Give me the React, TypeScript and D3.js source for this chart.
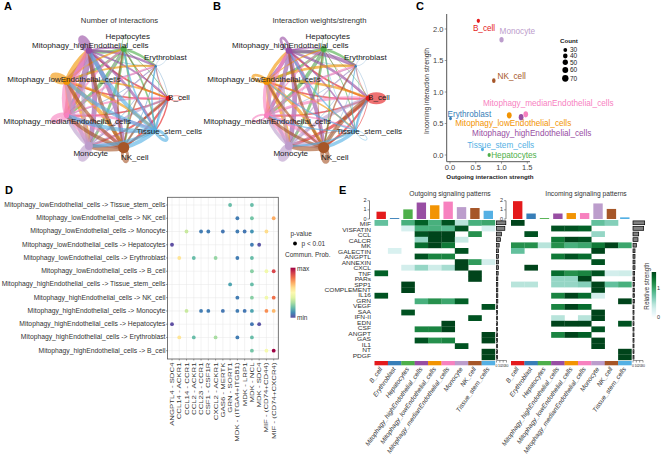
import React from 'react';
import * as d3 from 'd3';

const FONT = '"Liberation Sans", Arial, sans-serif';

// cell groups, same order everywhere
const cells = ['B_cell', 'Erythroblast', 'Hepatocytes', 'Mitophagy_highEndothelial_cells', 'Mitophagy_lowEndothelial_cells', 'Mitophagy_medianEndothelial_cells', 'Monocyte', 'NK_cell', 'Tissue_stem_cells'];
const cellColors = ['#E41A1C', '#377EB8', '#4DAF4A', '#984EA3', '#F29403', '#F781BF', '#BC9DCC', '#A65628', '#54B0E4'];

// network panels: row = source, column = target
const interactionCounts = [
  [5, 6, 8, 18, 16, 17, 20, 25, 14],
  [3, 1, 2, 5, 5, 5, 5, 6, 4],
  [8, 26, 6, 35, 30, 42, 30, 22, 16],
  [18, 25, 22, 62, 62, 70, 55, 50, 30],
  [16, 22, 18, 58, 60, 65, 50, 45, 26],
  [18, 22, 20, 65, 62, 52, 55, 50, 28],
  [25, 12, 14, 40, 38, 42, 68, 65, 18],
  [22, 15, 16, 38, 35, 40, 60, 30, 20],
  [24, 16, 16, 45, 40, 45, 35, 45, 32],
];
const interactionWeights = [
  [70, 4, 2, 16, 16, 16, 30, 20, 6],
  [2, 1, 1, 3, 3, 3, 3, 3, 2],
  [5, 24, 3, 30, 26, 38, 28, 14, 8],
  [26, 36, 12, 24, 38, 42, 48, 40, 16],
  [24, 26, 10, 32, 26, 40, 42, 34, 14],
  [28, 24, 12, 36, 34, 16, 48, 42, 16],
  [38, 10, 6, 30, 28, 34, 62, 50, 10],
  [44, 14, 6, 26, 24, 30, 50, 40, 12],
  [22, 6, 4, 12, 12, 14, 18, 34, 4],
];
const nodeSizes = [2.6, 1.2, 3, 3.2, 3.6, 2.6, 4, 5.6, 1.6];

const networkTitles = ['Number of interactions', 'Interaction weights/strength'];
const ringStretch = [1, 1, 1, 1.1, 1, 1, 1.1, 1, 1];
const networkLabelDx = [10.7, 9.6, 4, 1.4, -2.6, 0.7, 1.8, 11, 13.6];
const networkLabelDy = [-1, -8.9, -12.3, -5.7, -2.2, 6.3, 7, 9.8, 1.3];

// scatter panel
const outgoingStrength = [0.55, 0.01, 0.76, 1.38, 1.15, 1.47, 1.0, 0.85, 0.63];
const incomingStrength = [2.13, 0.58, 0.0, 0.6, 0.63, 0.645, 1.83, 1.18, 0.09];
const scatterCounts = [34, 26, 32, 62, 62, 60, 50, 38, 28];
const scatterLabelDx = [5.7, 18.8, 24.8, 10.6, 4, 22.5, 15.8, 17.9, 18.2];
const scatterLabelDy = [7.2, -4.5, 0.7, 15.8, 8, -11.1, -8, -4.7, -4];
const countLegend = [30, 40, 50, 60, 70];
const scatterXTicks = [0, 0.5, 1, 1.5];
const scatterYTicks = [0, 0.5, 1, 1.5, 2];

// dot panel
const pairs = [
  'Mitophagy_lowEndothelial_cells -> Tissue_stem_cells',
  'Mitophagy_lowEndothelial_cells -> NK_cell',
  'Mitophagy_lowEndothelial_cells -> Monocyte',
  'Mitophagy_lowEndothelial_cells -> Hepatocytes',
  'Mitophagy_lowEndothelial_cells -> Erythroblast',
  'Mitophagy_lowEndothelial_cells -> B_cell',
  'Mitophagy_highEndothelial_cells -> Tissue_stem_cells',
  'Mitophagy_highEndothelial_cells -> NK_cell',
  'Mitophagy_highEndothelial_cells -> Monocyte',
  'Mitophagy_highEndothelial_cells -> Hepatocytes',
  'Mitophagy_highEndothelial_cells -> Erythroblast',
  'Mitophagy_highEndothelial_cells -> B_cell',
];
const ligands = ['ANGPTL4 - SDC4', 'CCL14 - ACKR1', 'CCL14 - CCR1', 'CCL2 - ACKR1', 'CCL23 - CCR1', 'CSF1 - CSF1R', 'CXCL2 - ACKR1', 'GAS6 - MERTK', 'GRN - SORT1', 'MDK - (ITGA4+ITGB1)', 'MDK - LRP1', 'MDK - NCL', 'MDK - SDC4', 'MIF - (CD74+CD44)', 'MIF - (CD74+CXCR4)'];
// [pair index, ligand index, scaled probability]
const dots: [number, number, number][] = [
  [0, 8, 0.2], [0, 11, 0.2],
  [1, 9, 0.08], [1, 11, 0.22], [1, 14, 0.7],
  [2, 2, 0.35], [2, 4, 0.08], [2, 5, 0.08], [2, 7, 0.07], [2, 9, 0.08], [2, 10, 0.07], [2, 11, 0.12], [2, 13, 0.6],
  [3, 0, 0], [3, 11, 0.08], [3, 12, 0.01],
  [4, 1, 0.58], [4, 3, 0.2], [4, 6, 0.27], [4, 9, 0.08], [4, 11, 0.2],
  [5, 11, 0.25], [5, 13, 0.45], [5, 14, 0.88],
  [6, 8, 0.15], [6, 11, 0.2],
  [7, 9, 0.08], [7, 11, 0.25], [7, 13, 0.45], [7, 14, 0.8],
  [8, 2, 0.35], [8, 4, 0.08], [8, 5, 0.08], [8, 7, 0.07], [8, 9, 0.08], [8, 10, 0.07], [8, 11, 0.15], [8, 13, 0.75], [8, 14, 0.68],
  [9, 0, 0], [9, 11, 0.07], [9, 12, 0.01],
  [10, 1, 0.58], [10, 3, 0.2], [10, 6, 0.3], [10, 9, 0.08], [10, 11, 0.2],
  [11, 11, 0.22], [11, 13, 0.47], [11, 14, 1],
];

// heatmap panels
const pathways = ['MIF', 'VISFATIN', 'CCL', 'CALCR', 'MK', 'GALECTIN', 'ANGPTL', 'ANNEXIN', 'CXCL', 'TNF', 'PARs', 'SPP1', 'COMPLEMENT', 'IL16', 'GRN', 'VEGF', 'SAA', 'IFN-II', 'EDN', 'CSF', 'ANGPT', 'GAS', 'IL1', 'NT', 'PDGF'];
const outgoingHeat = [
  [0.45, 0, 0.55, 0.9, 0.55, 0.95, 0.2, 0.55, 0.6],
  [0, 0, 0.08, 0.55, 0.55, 0.5, 0.95, 0, 0.08],
  [0, 0, 0, 0.95, 1, 1, 0, 0.7, 0],
  [0, 0, 0, 0.3, 1, 1, 0.15, 0, 0],
  [0, 0, 0, 0.85, 1, 0.8, 0, 0, 0],
  [0, 0.07, 0, 0, 0, 0, 0.95, 0, 0],
  [0, 0, 0, 0.95, 0.75, 0.75, 0, 0, 0],
  [0, 0, 0, 0, 0, 0, 1, 0.65, 0.1],
  [0, 0, 0.1, 0.3, 0.12, 0.25, 1, 0, 0],
  [0.9, 0, 0, 0, 0, 0, 0, 1, 0],
  [0, 0, 0, 0, 0, 0, 0, 1, 0],
  [0, 0, 1, 0, 0, 0, 0, 0, 0],
  [0, 0, 1, 0, 0, 0, 0, 0, 0],
  [0.95, 0, 0, 0, 0, 0, 0, 0, 0],
  [0, 0, 0, 0.55, 0.7, 0.6, 0.9, 0, 0],
  [0, 0, 0, 0, 0, 0, 0, 0, 0.95],
  [0, 0, 0.95, 0, 0, 0, 0, 0, 0],
  [0, 0, 0, 0, 0, 0, 0, 0.95, 0],
  [0, 0, 0, 0, 0, 1, 0, 0, 0],
  [0, 0, 0, 0.75, 0.75, 1, 0, 0, 0],
  [0, 0, 0, 0, 0, 0, 0, 0, 1],
  [0, 0, 0, 0.95, 0.7, 0.75, 0, 0, 1],
  [0, 0, 0, 0, 0, 0, 0.95, 0, 0],
  [0, 0, 0, 0, 0, 0, 0, 0, 1],
  [0, 0, 0, 0, 0, 0, 0, 0, 1],
];
const incomingHeat = [
  [1, 0, 0, 0, 0, 0, 0.45, 0.35, 0],
  [0, 0, 0, 0.95, 0.95, 0.9, 0, 0, 0],
  [0, 0.95, 0, 0, 0, 0, 0.3, 0, 0],
  [0, 0, 0, 0.8, 1, 0.95, 0, 0, 0],
  [0.7, 0.7, 0.2, 0.7, 0.55, 0.6, 0.8, 1, 0.6],
  [0.45, 0, 0, 0, 0, 0, 1, 0, 0],
  [0, 0, 0, 0.8, 0.95, 0.85, 0, 0, 0],
  [0, 0, 0, 0, 0, 0, 0.95, 0, 0],
  [0, 1, 0, 0, 0, 0, 0, 0, 0],
  [0, 0, 0, 0.85, 0.7, 0.75, 0.95, 0.1, 0.12],
  [0, 0, 0, 0.3, 0.3, 1, 0, 0, 0],
  [0.2, 0.2, 0, 0.3, 0.3, 0.35, 1, 0.45, 0.55],
  [0, 0, 0, 0, 0, 0, 1, 0, 0],
  [0, 0, 0, 0.75, 1, 0.85, 0.1, 0, 0],
  [0, 0, 0, 0, 0, 0, 0, 0, 1],
  [0, 0, 0, 0.75, 1, 0.85, 0, 0, 0],
  [0, 0, 0, 0, 0, 0, 1, 0, 0],
  [0, 0, 0, 0.2, 0, 0.2, 1, 0, 0],
  [0, 0, 0, 1, 1, 1, 0, 0, 0.95],
  [0, 0, 0, 0, 0, 0, 0.95, 0, 0],
  [0, 0, 0, 0.75, 1, 0.9, 0, 0, 0],
  [0, 0, 0, 0, 0, 0, 1, 0, 0],
  [0, 0, 0, 0, 0, 0, 1, 0, 0],
  [0, 0, 0, 0, 0, 0, 0, 0, 1],
  [0, 0, 0, 0, 0, 0, 0, 0, 1],
];
const outgoingTotals = [0.8, 0.1, 1.05, 1.8, 1.5, 1.9, 1.3, 1.2, 0.9];
const incomingTotals = [1.95, 0.6, 0.1, 0.6, 0.65, 0.65, 1.7, 1.1, 0.18];
const outgoingRowTotals = [28, 25, 15, 12, 8, 6, 6, 6, 6, 5, 4, 4, 4, 4, 4, 3, 3, 3, 3, 3, 3, 3, 3, 3, 3];
const incomingRowTotals = [35, 32, 17, 15, 10, 6, 6, 6, 6, 5, 5, 4, 4, 4, 4, 3, 3, 3, 3, 3, 3, 3, 3, 3, 3];
const totalTicks = [0, 10, 20, 30];

const Network: React.FC<{ dx: number; title: string; values: number[][]; maxWidth: number }> = ({ dx, title, values, maxWidth }) => {
  const angle = d3.scalePoint<number>().domain(d3.range(10)).range([0, 2 * Math.PI]);
  const nodes = cells.map((_, i) => {
    const a = angle(i) as number;
    const sx = Math.cos(a) < 0 ? 0.94 : 1;
    return { x: 114.3 + dx + 54 * sx * Math.cos(a), y: 98.3 - 50 * ringStretch[i] * Math.sin(a), a };
  });
  const width = d3.scaleLinear().domain([0, 70]).range([0.25, maxWidth]);
  const edges: React.ReactElement[] = [];
  values.forEach((row, s) => row.forEach((v, t) => {
    if (s === t) return;
    const a = nodes[s];
    const b = nodes[t];
    const path = d3.path();
    path.moveTo(a.x, a.y);
    path.quadraticCurveTo((a.x + b.x) / 2 + (b.y - a.y) * 0.12, (a.y + b.y) / 2 - (b.x - a.x) * 0.12, b.x, b.y);
    edges.push(<path key={`${s}-${t}`} d={path.toString()} fill="none" stroke={cellColors[s]} strokeWidth={width(v)} strokeOpacity={0.62} />);
  }));
  return (
    <g fontFamily={FONT}>
      <text x={119.5 + dx} y={22.5} textAnchor="middle" fontSize={7.7} fill="#333">{title}</text>
      {nodes.map((n, i) => {
        const deg = (-n.a * 180) / Math.PI;
        const v = values[i][i];
        return (
          <ellipse key={i} cx={0} cy={0} rx={6.5} ry={2.6} transform={`translate(${n.x},${n.y}) rotate(${deg}) translate(8,0)`}
            fill="none" stroke={cellColors[i]} strokeWidth={width(v)} strokeOpacity={0.62} />
        );
      })}
      {edges}
      {nodes.map((n, i) => <circle key={i} cx={n.x} cy={n.y} r={nodeSizes[i]} fill={cellColors[i]} />)}
      {nodes.map((n, i) => (
        <text key={i} x={n.x + networkLabelDx[i]} y={n.y + networkLabelDy[i] + 2.6} fontSize={8} textAnchor="middle" fill="#222">
          {cells[i]}
        </text>
      ))}
    </g>
  );
};

const Scatter: React.FC = () => {
  const x = d3.scaleLinear().domain([0, 1.5]).range([450, 527.3]);
  const y = d3.scaleLinear().domain([0, 2]).range([155, 29]);
  const r = d3.scaleSqrt().domain([30, 70]).range([1.9, 3.2]);
  return (
    <g fontFamily={FONT}>
      <path d="M446.7,14V161.7H530" fill="none" stroke="#555" strokeWidth={1} />
      {scatterXTicks.map((t) => (
        <g key={t}>
          <line x1={x(t)} x2={x(t)} y1={161.7} y2={163.7} stroke="#555" strokeWidth={0.6} />
          <text x={x(t)} y={170} fontSize={7.5} textAnchor="middle" fill="#444">{d3.format('.1f')(t)}</text>
        </g>
      ))}
      {scatterYTicks.map((t) => (
        <g key={t}>
          <line x1={444.7} x2={446.7} y1={y(t)} y2={y(t)} stroke="#555" strokeWidth={0.6} />
          <text x={443.5} y={y(t) + 2.7} fontSize={7.5} textAnchor="end" fill="#444">{d3.format('.1f')(t)}</text>
        </g>
      ))}
      <text x={490} y={178.5} fontSize={6.2} fontWeight="bold" textAnchor="middle" fill="#222">Outgoing interaction strength</text>
      <text transform="translate(429,91) rotate(-90)" fontSize={6.7} textAnchor="middle" fill="#333">Incoming interaction strength</text>
      {cells.map((c, i) => (
        <g key={c}>
          <ellipse cx={x(outgoingStrength[i])} cy={y(incomingStrength[i])} rx={r(scatterCounts[i]) * 0.8} ry={r(scatterCounts[i]) * 1.05} fill={cellColors[i]} />
          <text x={x(outgoingStrength[i]) + scatterLabelDx[i]} y={y(incomingStrength[i]) + scatterLabelDy[i] + 2.7} fontSize={8.2} textAnchor="middle" fill={cellColors[i]}>{c}</text>
        </g>
      ))}
      <text x={560} y={43} fontSize={6.2} fontWeight="bold" fill="#222">Count</text>
      {countLegend.map((c, i) => {
        const ly = [50, 56, 62.3, 70, 78.3][i];
        return (
          <g key={c}>
            <ellipse cx={565.3} cy={ly} rx={r(c)} ry={r(c) * 1.05} fill="#000" />
            <text x={570} y={ly + 2.4} fontSize={6.5} fill="#222">{c}</text>
          </g>
        );
      })}
    </g>
  );
};

const DotPlot: React.FC = () => {
  const x = d3.scalePoint<string>().domain(ligands).range([172, 273.7]);
  const y = d3.scalePoint<string>().domain(pairs).range([205, 350.7]);
  const color = (v: number) => d3.interpolateSpectral(1 - v);
  const stops = d3.range(0, 1.01, 0.1);
  return (
    <g fontFamily={FONT}>
      <defs>
        <linearGradient id="commun" x1="0" y1="1" x2="0" y2="0">
          {stops.map((s) => <stop key={s} offset={s} stopColor={color(s)} />)}
        </linearGradient>
      </defs>
      {ligands.map((l) => <line key={l} x1={x(l)} x2={x(l)} y1={197.3} y2={359} stroke="#e6e6e6" strokeWidth={0.5} />)}
      {pairs.map((p) => <line key={p} x1={167.5} x2={278.3} y1={y(p)} y2={y(p)} stroke="#e6e6e6" strokeWidth={0.5} />)}
      <rect x={167.5} y={197.3} width={110.8} height={161.7} fill="none" stroke="#555" strokeWidth={0.8} />
      {pairs.map((p) => (
        <g key={p}>
          <line x1={166} x2={167.5} y1={y(p)} y2={y(p)} stroke="#444" strokeWidth={0.5} />
          <text transform={`translate(165.5,${(y(p) as number) + 2}) scale(1.06,1)`} fontSize={6.4} textAnchor="end" fill="#333">{p}</text>
        </g>
      ))}
      {ligands.map((l) => (
        <g key={l}>
          <line x1={x(l)} x2={x(l)} y1={359} y2={360.5} stroke="#444" strokeWidth={0.5} />
          <text transform={`translate(${(x(l) as number) + 2},362.5) rotate(-90) scale(1.26,1)`} fontSize={6.2} textAnchor="end" fill="#333">{l}</text>
        </g>
      ))}
      {dots.map(([p, l, v], i) => <circle key={i} cx={x(ligands[l])} cy={y(pairs[p])} r={1.9} fill={color(v)} />)}
      <text x={290.5} y={236} fontSize={6.5} fill="#333">p-value</text>
      <circle cx={295} cy={243.5} r={1.9} fill="#000" />
      <text x={301.5} y={245.5} fontSize={6.5} fill="#333">p &lt; 0.01</text>
      <text x={285} y={257} fontSize={6.5} fill="#333">Commun. Prob.</text>
      <rect x={290.5} y={267.7} width={5} height={50} fill="url(#commun)" />
      <text x={297} y={270.5} fontSize={6.5} fill="#333">max</text>
      <text x={297} y={319.5} fontSize={6.5} fill="#333">min</text>
    </g>
  );
};

const Heat: React.FC<{ x0: number; title: string; titleX: number; heat: number[][]; totals: number[]; rowTotals: number[]; labels: boolean }> = ({ x0, title, titleX, heat, totals, rowTotals, labels }) => {
  const x = d3.scaleBand<number>().domain(d3.range(cells.length)).range([x0, x0 + 120.5]);
  const y = d3.scaleBand<string>().domain(pathways).range([220, 360]);
  const labelY = d3.scalePoint<string>().domain(pathways).range([224.3, 355.7]);
  const barY = d3.scaleLinear().domain([0, 2]).range([219, 200.7]);
  const barX = d3.scaleLinear().domain([0, 30]).range([x0 + 122, x0 + 132]);
  return (
    <g fontFamily={FONT}>
      <text x={titleX} y={196} fontSize={6.7} textAnchor="middle" fill="#333">{title}</text>
      <line x1={x0 - 5} x2={x0 - 5} y1={barY(2)} y2={barY(0)} stroke="#333" strokeWidth={0.6} />
      {[0, 1, 2].map((t) => (
        <g key={t}>
          <line x1={x0 - 7} x2={x0 - 5} y1={barY(t)} y2={barY(t)} stroke="#333" strokeWidth={0.5} />
          <text x={x0 - 8} y={barY(t) + 1.5} fontSize={5.5} textAnchor="end" fill="#333">{t}</text>
        </g>
      ))}
      {totals.map((v, i) => (
        <rect key={i} x={(x(i) as number) + 2} y={barY(v)} width={x.bandwidth() - 4} height={barY(0) - barY(v)} fill={cellColors[i]} />
      ))}
      {heat.map((row, r) => row.map((v, c) => (v > 0 ? (
        <rect key={`${r}-${c}`} x={x(c)} y={y(pathways[r])} width={x.bandwidth() + 0.2} height={y.bandwidth() + 0.2} fill={d3.interpolateBuGn(0.12 + v * 0.88)} />
      ) : null)))}
      {labels && pathways.map((p) => (
        <text key={p} transform={`translate(${x0 - 3.5},${(labelY(p) as number) + 2}) scale(1.18,1)`} fontSize={5.6} textAnchor="end" fill="#333">{p}</text>
      ))}
      {rowTotals.map((v, r) => (
        <rect key={r} x={barX(0)} y={(y(pathways[r]) as number) + 0.9} width={barX(v) - barX(0)} height={y.bandwidth() - 1.8} fill="#808080" stroke="#000" strokeWidth={0.7} />
      ))}
      {cells.map((c, i) => (
        <g key={c}>
          <rect x={x(i)} y={361} width={x.bandwidth() + 0.2} height={4.3} fill={cellColors[i]} />
          <text transform={`translate(${(x(i) as number) + x.bandwidth() / 2 + 1.5},369) rotate(-55)`} fontSize={6.5} fontStyle="italic" textAnchor="end" fill="#333">{c}</text>
        </g>
      ))}
      <line x1={barX(0)} x2={barX(30)} y1={360.5} y2={360.5} stroke="#333" strokeWidth={0.5} />
      {totalTicks.map((t) => (
        <g key={t}>
          <line x1={barX(t)} x2={barX(t)} y1={360.5} y2={362.5} stroke="#333" strokeWidth={0.5} />
          <text x={barX(t)} y={366.5} fontSize={3.5} textAnchor="middle" fill="#333">{t}</text>
        </g>
      ))}
    </g>
  );
};

const App: React.FC = () => {
  const legendStops = d3.range(0, 1.01, 0.1);
  return (
    <svg width={661} height={455} style={{ position: 'absolute', left: 0, top: 0, background: '#fff' }}>
      <defs>
        <linearGradient id="relative" x1="0" y1="1" x2="0" y2="0">
          {legendStops.map((s) => <stop key={s} offset={s} stopColor={s === 0 ? '#fff' : d3.interpolateBuGn(s)} />)}
        </linearGradient>
      </defs>
      <g fontFamily={FONT} fontSize={11} fontWeight="bold" fill="#000">
        <text x={4} y={10}>A</text>
        <text x={213} y={10}>B</text>
        <text x={416} y={10}>C</text>
        <text x={5} y={194}>D</text>
        <text x={339} y={194}>E</text>
      </g>
      <Network dx={0} title={networkTitles[0]} values={interactionCounts} maxWidth={6.2} />
      <Network dx={200} title={networkTitles[1]} values={interactionWeights} maxWidth={6.8} />
      <Scatter />
      <DotPlot />
      <Heat x0={374.5} title="Outgoing signaling patterns" titleX={450} heat={outgoingHeat} totals={outgoingTotals} rowTotals={outgoingRowTotals} labels />
      <Heat x0={511} title="Incoming signaling patterns" titleX={586} heat={incomingHeat} totals={incomingTotals} rowTotals={incomingRowTotals} labels={false} />
      <g fontFamily={FONT} fill="#333">
        <text transform="translate(649,286) rotate(-90)" fontSize={6.3} textAnchor="middle">Relative strength</text>
        <rect x={651.7} y={272} width={4.4} height={46} fill="url(#relative)" />
        <text x={657} y={290} fontSize={5.5}>1</text>
        <text x={657} y={319} fontSize={5.5}>0</text>
      </g>
    </svg>
  );
};

export default App;
